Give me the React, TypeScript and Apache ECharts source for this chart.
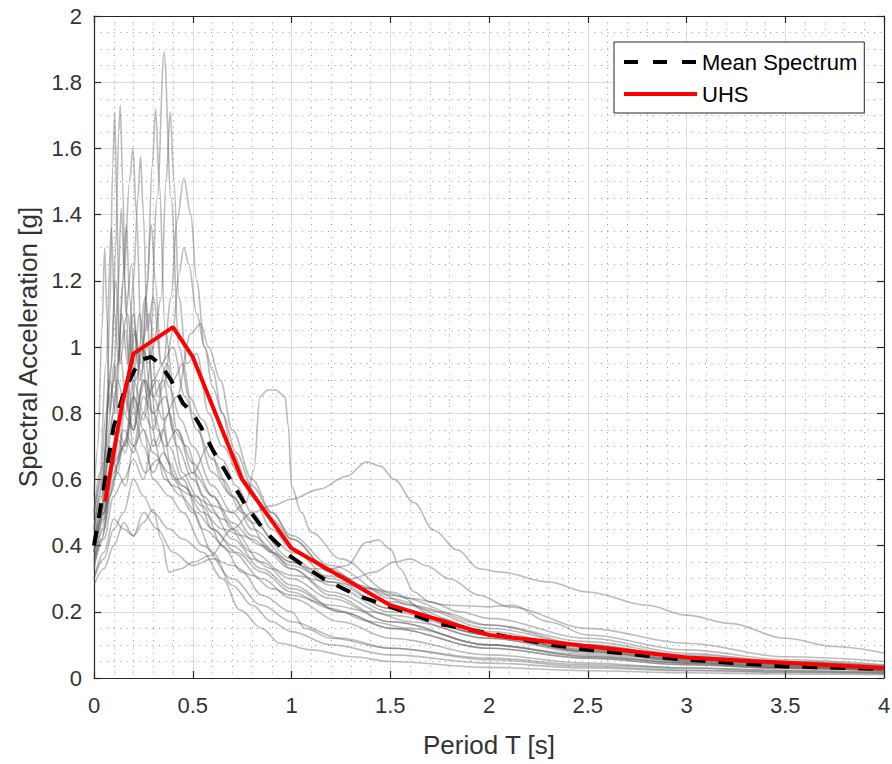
import React, { useEffect, useRef } from "react";
import * as echarts from "echarts";

// ---- data ----
const xTickLabels = ["0", "0.5", "1", "1.5", "2", "2.5", "3", "3.5", "4"];
const yTickLabels = ["0", "0.2", "0.4", "0.6", "0.8", "1", "1.2", "1.4", "1.6", "1.8", "2"];

const uhsT = [0.056, 0.143, 0.2, 0.4, 0.5, 0.75, 1.0, 1.5, 2.0, 3.0, 4.0];
const uhsSa = [0.533, 0.83, 0.98, 1.06, 0.97, 0.6, 0.392, 0.22, 0.13, 0.062, 0.03];

const meanT = [0, 0.04, 0.1, 0.15, 0.18, 0.23, 0.29, 0.34, 0.39, 0.45, 0.5, 0.54, 0.6, 0.65, 0.69, 0.77, 0.87, 1.0, 1.16, 1.33, 1.5, 1.75, 2.0, 2.32, 2.5, 3.0, 3.5, 4.0];
const meanSa = [0.40, 0.54, 0.76, 0.86, 0.9, 0.96, 0.97, 0.945, 0.9, 0.83, 0.8, 0.76, 0.69, 0.64, 0.6, 0.52, 0.44, 0.365, 0.3, 0.25, 0.215, 0.163, 0.135, 0.1, 0.085, 0.055, 0.035, 0.027];

type P = [number, number];
const rec01: P[] = [[0,0.42],[0.04,0.5],[0.08,0.7],[0.12,0.62],[0.16,0.85],[0.2,0.75],[0.24,1.0],[0.28,0.95],[0.32,1.45],[0.355,1.89],[0.39,1.45],[0.43,1.0],[0.48,0.85],[0.55,0.78],[0.65,0.6],[0.75,0.5],[0.9,0.38],[1.0,0.33],[1.2,0.25],[1.5,0.17],[2.0,0.1],[2.5,0.065],[3.0,0.045],[3.5,0.032],[4.0,0.025]];
const rec02: P[] = [[0,0.38],[0.03,0.45],[0.06,0.7],[0.08,1.1],[0.095,1.55],[0.105,1.71],[0.115,1.45],[0.13,0.95],[0.16,1.05],[0.19,0.8],[0.23,1.1],[0.27,0.85],[0.32,0.9],[0.38,0.7],[0.45,0.6],[0.55,0.45],[0.7,0.38],[0.85,0.3],[1.0,0.24],[1.25,0.17],[1.5,0.12],[2.0,0.07],[2.5,0.045],[3.0,0.03],[3.5,0.022],[4.0,0.017]];
const rec03: P[] = [[0,0.45],[0.03,0.55],[0.06,0.8],[0.09,0.95],[0.11,1.3],[0.125,1.65],[0.133,1.73],[0.145,1.5],[0.16,1.1],[0.19,1.25],[0.22,0.95],[0.26,1.15],[0.3,0.85],[0.35,0.9],[0.4,0.75],[0.47,0.7],[0.55,0.55],[0.65,0.48],[0.8,0.38],[1.0,0.3],[1.2,0.24],[1.5,0.17],[2.0,0.1],[2.5,0.065],[3.0,0.045],[3.5,0.03],[4.0,0.022]];
const rec04: P[] = [[0,0.4],[0.04,0.5],[0.08,0.75],[0.12,0.9],[0.16,0.8],[0.2,1.05],[0.24,0.95],[0.27,1.2],[0.295,1.55],[0.312,1.72],[0.33,1.5],[0.36,1.05],[0.4,0.9],[0.45,0.95],[0.5,0.8],[0.6,0.62],[0.7,0.55],[0.8,0.45],[1.0,0.35],[1.2,0.28],[1.5,0.2],[2.0,0.13],[2.5,0.085],[3.0,0.055],[3.5,0.04],[4.0,0.03]];
const rec05: P[] = [[0,0.35],[0.04,0.45],[0.08,0.6],[0.12,0.75],[0.16,0.7],[0.2,0.9],[0.25,0.8],[0.3,1.0],[0.34,1.15],[0.365,1.5],[0.386,1.71],[0.405,1.5],[0.43,1.15],[0.47,0.95],[0.52,0.98],[0.58,0.8],[0.65,0.7],[0.75,0.6],[0.9,0.48],[1.0,0.42],[1.2,0.32],[1.5,0.23],[2.0,0.14],[2.5,0.09],[3.0,0.06],[3.5,0.042],[4.0,0.032]];
const rec06: P[] = [[0,0.5],[0.04,0.6],[0.08,0.85],[0.12,0.95],[0.15,1.2],[0.18,1.5],[0.197,1.6],[0.215,1.4],[0.24,1.0],[0.28,1.1],[0.32,0.85],[0.37,0.95],[0.42,0.75],[0.5,0.65],[0.6,0.55],[0.7,0.45],[0.85,0.35],[1.0,0.28],[1.25,0.2],[1.5,0.15],[2.0,0.09],[2.5,0.06],[3.0,0.04],[3.5,0.028],[4.0,0.02]];
const rec07: P[] = [[0,0.44],[0.04,0.55],[0.08,0.9],[0.11,0.8],[0.14,1.1],[0.17,0.95],[0.2,1.2],[0.222,1.45],[0.236,1.575],[0.25,1.4],[0.27,1.05],[0.3,1.15],[0.34,0.95],[0.4,1.0],[0.46,0.85],[0.52,0.75],[0.6,0.66],[0.7,0.55],[0.8,0.47],[1.0,0.36],[1.2,0.29],[1.5,0.21],[2.0,0.13],[2.5,0.085],[3.0,0.057],[3.5,0.04],[4.0,0.03]];
const rec08: P[] = [[0,0.38],[0.04,0.48],[0.08,0.6],[0.12,0.72],[0.16,0.68],[0.2,0.85],[0.25,0.78],[0.3,0.9],[0.35,0.95],[0.39,1.15],[0.42,1.38],[0.455,1.51],[0.49,1.4],[0.52,1.2],[0.56,1.0],[0.6,0.88],[0.65,0.8],[0.72,0.68],[0.8,0.58],[0.9,0.5],[1.0,0.43],[1.2,0.34],[1.5,0.25],[2.0,0.16],[2.5,0.1],[3.0,0.065],[3.5,0.045],[4.0,0.034]];
const rec09: P[] = [[0,0.33],[0.04,0.42],[0.08,0.55],[0.12,0.65],[0.16,0.72],[0.2,0.68],[0.25,0.8],[0.3,0.75],[0.35,0.88],[0.4,1.05],[0.43,1.22],[0.455,1.3],[0.48,1.25],[0.52,1.1],[0.56,1.0],[0.6,0.93],[0.65,0.8],[0.7,0.68],[0.8,0.55],[0.9,0.45],[1.0,0.39],[1.2,0.3],[1.5,0.21],[2.0,0.13],[2.5,0.08],[3.0,0.052],[3.5,0.036],[4.0,0.027]];
const rec10: P[] = [[0,0.55],[0.02,0.7],[0.04,1.05],[0.054,1.3],[0.065,1.1],[0.08,0.8],[0.1,0.95],[0.13,0.75],[0.16,0.9],[0.2,0.7],[0.25,0.75],[0.3,0.6],[0.38,0.55],[0.45,0.5],[0.55,0.4],[0.7,0.3],[0.85,0.22],[1.0,0.17],[1.25,0.12],[1.5,0.09],[2.0,0.055],[2.5,0.035],[3.0,0.024],[3.5,0.018],[4.0,0.014]];
const rec11: P[] = [[0,0.5],[0.03,0.62],[0.06,0.95],[0.088,1.36],[0.105,1.1],[0.125,0.95],[0.145,1.2],[0.164,1.37],[0.18,1.15],[0.21,0.9],[0.25,1.0],[0.3,0.8],[0.36,0.85],[0.42,0.7],[0.5,0.6],[0.6,0.5],[0.7,0.42],[0.85,0.33],[1.0,0.27],[1.25,0.2],[1.5,0.15],[2.0,0.09],[2.5,0.06],[3.0,0.04],[3.5,0.03],[4.0,0.022]];
const rec12: P[] = [[0,0.42],[0.04,0.52],[0.07,0.75],[0.1,0.9],[0.12,1.15],[0.138,1.42],[0.155,1.2],[0.18,0.95],[0.21,1.05],[0.24,0.9],[0.265,1.15],[0.29,1.37],[0.31,1.2],[0.34,0.95],[0.38,0.88],[0.44,0.78],[0.5,0.7],[0.6,0.58],[0.7,0.5],[0.8,0.43],[1.0,0.33],[1.2,0.26],[1.5,0.19],[2.0,0.12],[2.5,0.075],[3.0,0.05],[3.5,0.035],[4.0,0.026]];
const rec13: P[] = [[0,0.35],[0.04,0.42],[0.08,0.55],[0.12,0.62],[0.16,0.58],[0.2,0.7],[0.26,0.62],[0.32,0.66],[0.4,0.58],[0.5,0.55],[0.6,0.52],[0.7,0.5],[0.77,0.53],[0.81,0.63],[0.84,0.85],[0.88,0.87],[0.92,0.87],[0.967,0.85],[0.984,0.76],[1.0,0.58],[1.05,0.5],[1.1,0.44],[1.25,0.36],[1.5,0.26],[1.75,0.18],[2.0,0.13],[2.5,0.08],[3.0,0.05],[3.5,0.035],[4.0,0.025]];
const rec14: P[] = [[0,0.3],[0.05,0.38],[0.1,0.48],[0.15,0.45],[0.2,0.43],[0.25,0.47],[0.3,0.51],[0.34,0.42],[0.38,0.32],[0.44,0.33],[0.5,0.35],[0.59,0.37],[0.7,0.45],[0.8,0.5],[0.9,0.52],[1.0,0.54],[1.14,0.57],[1.28,0.61],[1.38,0.653],[1.45,0.64],[1.52,0.6],[1.62,0.53],[1.72,0.447],[1.84,0.387],[1.95,0.33],[2.06,0.32],[2.3,0.29],[2.5,0.26],[2.8,0.22],[3.0,0.19],[3.22,0.165],[3.5,0.12],[3.75,0.095],[4.0,0.075]];
const rec15: P[] = [[0,0.36],[0.05,0.45],[0.1,0.6],[0.15,0.75],[0.2,0.7],[0.25,0.85],[0.3,0.8],[0.36,0.7],[0.42,0.75],[0.5,0.62],[0.6,0.55],[0.7,0.47],[0.8,0.42],[0.9,0.38],[1.0,0.35],[1.1,0.33],[1.2,0.33],[1.28,0.34],[1.38,0.41],[1.44,0.417],[1.5,0.39],[1.55,0.33],[1.62,0.26],[1.7,0.23],[1.85,0.2],[2.0,0.18],[2.5,0.12],[3.0,0.075],[3.5,0.05],[4.0,0.035]];
const rec16: P[] = [[0,0.38],[0.05,0.48],[0.1,0.65],[0.15,0.7],[0.2,0.85],[0.25,0.75],[0.3,0.68],[0.38,0.62],[0.45,0.58],[0.55,0.5],[0.65,0.45],[0.75,0.43],[0.85,0.4],[1.0,0.34],[1.15,0.31],[1.3,0.3],[1.42,0.32],[1.52,0.35],[1.6,0.36],[1.68,0.34],[1.8,0.3],[1.95,0.25],[2.1,0.215],[2.5,0.15],[3.0,0.105],[3.5,0.064],[4.0,0.05]];
const rec17: P[] = [[0,0.34],[0.05,0.42],[0.1,0.55],[0.15,0.6],[0.2,0.66],[0.25,0.6],[0.3,0.72],[0.36,0.6],[0.44,0.55],[0.52,0.5],[0.6,0.45],[0.7,0.4],[0.8,0.36],[0.9,0.33],[1.0,0.31],[1.2,0.29],[1.4,0.27],[1.6,0.24],[1.8,0.22],[2.0,0.215],[2.12,0.22],[2.3,0.17],[2.5,0.13],[3.0,0.085],[3.5,0.055],[4.0,0.04]];
const rec18: P[] = [[0,0.38],[0.05,0.5],[0.1,0.65],[0.15,0.85],[0.2,0.75],[0.25,0.9],[0.3,0.7],[0.35,0.75],[0.4,0.6],[0.5,0.5],[0.6,0.38],[0.7,0.28],[0.8,0.22],[0.9,0.17],[1.0,0.14],[1.2,0.1],[1.5,0.07],[2.0,0.045],[2.5,0.03],[3.0,0.022],[3.5,0.017],[4.0,0.013]];
const rec19: P[] = [[0,0.3],[0.05,0.36],[0.1,0.45],[0.15,0.5],[0.2,0.6],[0.25,0.55],[0.3,0.5],[0.38,0.45],[0.45,0.42],[0.55,0.38],[0.65,0.3],[0.74,0.205],[0.85,0.15],[0.94,0.105],[1.1,0.085],[1.31,0.064],[1.5,0.05],[2.0,0.032],[2.5,0.022],[3.0,0.016],[3.5,0.012],[4.0,0.01]];
const rec20: P[] = [[0,0.45],[0.05,0.6],[0.1,0.8],[0.13,1.0],[0.16,0.85],[0.2,1.1],[0.23,0.9],[0.27,1.0],[0.32,0.75],[0.38,0.65],[0.45,0.58],[0.55,0.52],[0.65,0.4],[0.75,0.32],[0.85,0.25],[1.0,0.2],[1.07,0.15],[1.2,0.12],[1.5,0.09],[2.0,0.06],[2.5,0.04],[3.0,0.03],[3.5,0.022],[4.0,0.017]];
const rec21: P[] = [[0,0.4],[0.05,0.5],[0.1,0.7],[0.15,0.8],[0.2,0.75],[0.25,0.9],[0.3,0.85],[0.35,0.78],[0.42,0.85],[0.49,1.04],[0.54,1.07],[0.58,1.0],[0.64,0.9],[0.7,0.75],[0.8,0.6],[0.9,0.5],[1.0,0.42],[1.2,0.32],[1.4,0.27],[1.6,0.22],[2.0,0.15],[2.5,0.1],[3.0,0.065],[3.5,0.047],[4.0,0.035]];
const rec22: P[] = [[0,0.48],[0.05,0.65],[0.08,0.9],[0.11,1.2],[0.13,1.0],[0.17,1.1],[0.21,0.8],[0.26,0.9],[0.32,0.7],[0.38,0.8],[0.45,0.62],[0.52,0.55],[0.6,0.45],[0.72,0.38],[0.85,0.32],[1.0,0.26],[1.2,0.21],[1.4,0.17],[1.6,0.15],[2.0,0.1],[2.5,0.07],[3.0,0.045],[3.5,0.032],[4.0,0.024]];
const rec23: P[] = [[0,0.28],[0.05,0.33],[0.1,0.4],[0.15,0.47],[0.2,0.43],[0.25,0.5],[0.32,0.45],[0.4,0.38],[0.5,0.34],[0.6,0.36],[0.7,0.34],[0.8,0.31],[0.9,0.27],[1.0,0.25],[1.2,0.22],[1.4,0.2],[1.6,0.17],[2.0,0.12],[2.5,0.08],[3.0,0.055],[3.5,0.04],[4.0,0.03]];
const rec24: P[] = [[0,0.4],[0.05,0.5],[0.1,0.62],[0.15,0.7],[0.2,0.8],[0.25,0.7],[0.3,0.62],[0.35,0.68],[0.42,0.6],[0.5,0.62],[0.58,0.7],[0.65,0.66],[0.72,0.58],[0.8,0.5],[0.9,0.42],[1.0,0.38],[1.1,0.36],[1.2,0.33],[1.35,0.28],[1.5,0.24],[1.75,0.2],[2.0,0.16],[2.5,0.11],[3.0,0.07],[3.5,0.05],[4.0,0.038]];

const grayRecords = [rec01, rec02, rec03, rec04, rec05, rec06, rec07, rec08, rec09, rec10, rec11, rec12, rec13, rec14, rec15, rec16, rec17, rec18, rec19, rec20, rec21, rec22, rec23, rec24];

const FONT = "'Liberation Sans', Arial, Helvetica, sans-serif";
const TXT = "#333333";
const AX = "#262626";

export default function App() {
  const ref = useRef<HTMLDivElement>(null);
  useEffect(() => {
    if (!ref.current) return;
    const chart = echarts.init(ref.current, null, { renderer: "svg" });

    const graySeries = grayRecords.map((rec, i) => ({
      name: "rec" + (i + 1),
      type: "line",
      data: rec,
      showSymbol: false,
      symbol: "none",
      smooth: 0.35,
      smoothMonotone: "x",
      silent: true,
      z: 1,
      itemStyle: { color: "#808080" },
      lineStyle: { color: "rgba(95,95,95,0.42)", width: 1.6 },
      emphasis: { disabled: true },
    }));

    const splitX = { show: true, lineStyle: { color: "#dcdcdc", width: 1 } };
    const minorSplit = { show: true, lineStyle: { color: "rgba(0,0,0,0.38)", width: 1, type: [1, 5.5] } };

    chart.setOption({
      animation: false,
      textStyle: { fontFamily: FONT },
      grid: { left: 94, top: 16, width: 790, height: 662, containLabel: false, outerBoundsMode: "none" },
      legend: {
        data: [
          { name: "Mean Spectrum", lineStyle: { color: "#000000", width: 4, type: [14, 15], cap: "butt" } },
          { name: "UHS", lineStyle: { color: "#ff0000", width: 4 } },
        ],
        orient: "vertical",
        left: 614,
        top: 42,
        itemWidth: 73,
        itemHeight: 14,
        itemGap: 10,
        padding: [9, 7, 8, 8],
        backgroundColor: "#ffffff",
        borderColor: AX,
        borderWidth: 1,
        borderRadius: 0,
        itemStyle: { opacity: 0 },
        textStyle: { fontSize: 22, color: "#000", fontFamily: FONT },
        selectedMode: false,
      },
      xAxis: [
        {
          type: "value",
          min: 0,
          max: 4,
          interval: 0.5,
          position: "bottom",
          name: "Period T [s]",
          nameLocation: "middle",
          nameGap: 54,
          nameTextStyle: { fontSize: 26, color: TXT, fontFamily: FONT },
          axisLine: { show: true, onZero: false, lineStyle: { color: AX, width: 1.2 } },
          axisTick: { show: true, inside: true, length: 7, lineStyle: { color: AX, width: 1.2 } },
          axisLabel: {
            fontSize: 22,
            color: TXT,
            margin: 16,
            fontFamily: FONT,
            formatter: (v: number) => xTickLabels[Math.round(v / 0.5)] ?? "",
          },
          splitLine: splitX,
          minorTick: { show: false, splitNumber: 5 },
          minorSplitLine: minorSplit,
        },
        {
          type: "value",
          min: 0,
          max: 4,
          interval: 0.5,
          position: "top",
          axisLine: { show: true, onZero: false, lineStyle: { color: AX, width: 1.2 } },
          axisTick: { show: true, inside: true, length: 7, lineStyle: { color: AX, width: 1.2 } },
          axisLabel: { show: false },
          splitLine: { show: false },
        },
      ],
      yAxis: [
        {
          type: "value",
          min: 0,
          max: 2,
          interval: 0.2,
          position: "left",
          name: "Spectral Acceleration [g]",
          nameLocation: "middle",
          nameGap: 53,
          nameTextStyle: { fontSize: 26, color: TXT, fontFamily: FONT },
          axisLine: { show: true, onZero: false, lineStyle: { color: AX, width: 1.2 } },
          axisTick: { show: true, inside: true, length: 7, lineStyle: { color: AX, width: 1.2 } },
          axisLabel: {
            fontSize: 22,
            color: TXT,
            margin: 12,
            padding: [6, 0, 0, 0],
            fontFamily: FONT,
            formatter: (v: number) => yTickLabels[Math.round(v / 0.2)] ?? "",
          },
          splitLine: splitX,
          minorTick: { show: false, splitNumber: 4 },
          minorSplitLine: minorSplit,
        },
        {
          type: "value",
          min: 0,
          max: 2,
          interval: 0.2,
          position: "right",
          axisLine: { show: true, onZero: false, lineStyle: { color: AX, width: 1.2 } },
          axisTick: { show: true, inside: true, length: 7, lineStyle: { color: AX, width: 1.2 } },
          axisLabel: { show: false },
          splitLine: { show: false },
        },
      ],
      series: [
        ...graySeries,
        {
          name: "Mean Spectrum",
          type: "line",
          data: meanT.map((t, i) => [t, meanSa[i]]),
          showSymbol: false,
          symbol: "none",
          z: 3,
          itemStyle: { color: "#000000" },
          lineStyle: { color: "#000000", width: 4, type: [15, 13], cap: "butt" },
          emphasis: { disabled: true },
        },
        {
          name: "UHS",
          type: "line",
          data: uhsT.map((t, i) => [t, uhsSa[i]]),
          showSymbol: false,
          symbol: "none",
          z: 4,
          itemStyle: { color: "#ff0000" },
          lineStyle: { color: "#ff0000", width: 4 },
          emphasis: { disabled: true },
        },
      ],
    });
    return () => chart.dispose();
  }, []);

  return (
    <div
      ref={ref}
      style={{ position: "fixed", left: 0, top: 0, width: 892, height: 764, background: "#fff" }}
    />
  );
}
